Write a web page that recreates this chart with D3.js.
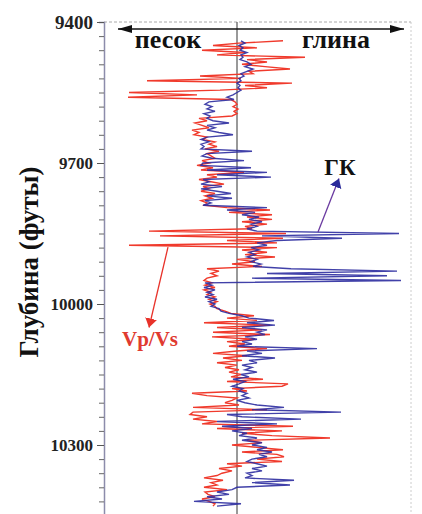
<!DOCTYPE html>
<html>
<head>
<meta charset="utf-8">
<script src="https://cdn.jsdelivr.net/npm/d3@7"></script>
<style>
  body { margin: 0; background: #fff; }
  svg { display: block; }
  .serif { font-family: 'Liberation Serif', 'DejaVu Serif', serif; font-weight: bold; }
</style>
</head>
<body>
<div id="chart"></div>
<script>
// sampling grid of the log (feet)
const depthStart = 9440;
const depthStep = 5;

// Vp/Vs curve, relative to the sand/clay line (left = sand, right = clay)
const vpvs = [
  46, 2, -24, 20, -35, 8, -20, 68, 10, 30,
  5, 28, 53, 12, 16, -37, 4, -90, 55, 8,
  30, -17, -108, -40, -109, -6, -2, 0, -4, 1,
  -3, 0, -5, -38, -30, -42, -35, -28, -45, -38,
  -43, -30, -34, -22, -28, -20, -32, -18, -30, -26,
  -22, -35, -28, -40, -24, -36, 7, -30, -20, -38,
  -26, -13, -34, -28, -36, -22, -32, -25, -36, -30,
  -33, -10, 33, -8, 35, 10, 35, 5, 30, 8,
  15, -88, 49, -77, 46, -10, 40, -108, 40, 5,
  30, 8, 38, 0, 18, -5, 25, -30, -18, -26,
  -20, -30, -33, -25, -32, -22, -33, -26, -30, -22,
  -28, -20, -27, -22, -20, -12, -6, 17, -10, 20,
  -33, 33, -20, 25, -24, 33, -25, 18, -10, 8,
  -8, 30, 0, -24, 10, -14, 5, -20, 0, -12,
  2, -8, 4, -6, 26, -10, 51, 45, -5, 10,
  -45, -30, 0, -5, -12, 2, -44, 30, -44, -47,
  -30, -44, -20, -35, 56, -20, 45, 5, 35, 93,
  10, 25, -5, 20, 46, 5, 40, 47, 20, 45,
  -10, 5, -18, -5, -15, -20, -33, -14, -26, -20,
  -33, -10, -32, -29, -22, -35, -28, -22, -24
];

// GK (gamma ray) curve, same depths
const gk = [
  4, 8, 2, 6, 3, 10, 4, 6, 3, 10,
  14, 8, 16, 10, 4, 7, 2, 4, 0, 3,
  1, 4, 0, -4, -10, -3, -28, -32, -25, -30,
  -22, -33, -27, -30, -24, -8, -30, -22, -30, -18,
  -4, -30, -36, -28, -36, -33, -36, 15, -30, -35,
  -25, 7, -34, -36, 14, -30, 30, -20, 34, -34,
  -28, -36, -15, -36, -20, -6, -30, -5, -32, -26,
  -34, 30, -10, 18, 5, 22, 12, 25, 14, 20,
  10, 20, 162, 25, 105, 40, 20, 30, 14, 22,
  12, 18, 10, 20, 14, 24, 16, 54, 160, 30,
  150, 15, 164, -32, -25, -33, -22, -30, -24, -32,
  -20, -28, -22, -26, -18, -16, -8, 5, 12, 37,
  10, 38, 5, 30, 20, 28, 8, 20, 5, 15,
  0, 80, 10, 25, 5, 38, 12, 20, 5, 15,
  8, 20, 4, 12, -4, 8, 2, -5, 6, 2,
  10, 5, 12, 0, 8, 20, 47, 15, 104, -10,
  5, 64, -20, 40, -15, 15, -5, 10, 2, 20,
  5, 25, 15, 30, 20, 35, 22, 30, 15, 10,
  20, 30, 15, 25, 10, 15, 8, 57, 15, 53,
  0, -5, -20, -8, -30, -15, -43, 4, -20
];

const majorTicks = [9400, 9700, 10000, 10300];
const minorStep = 30;
const depthDomain = [9400, 10450];
const valueDomain = [-133, 174];
const sideLabels = ['песок', 'глина'];
const yTitle = 'Глубина (футы)';

// annotations: [depth, value] of arrow start and end
const gkNote = { text: 'ГК', from: [9847, 81], to: [9733, 102], label: [9725, 103] };
const vpNote = { text: 'Vp/Vs', from: [9879, -69], to: [10050, -88], label: [10090, -87] };

const width = 422, height = 514;
const margin = { top: 22, left: 104, right: 11 };

const svg = d3.select('#chart')
  .append('svg')
  .attr('width', width)
  .attr('height', height);

const y = d3.scaleLinear()
  .domain(depthDomain)
  .range([margin.top, margin.top + 0.47 * (depthDomain[1] - depthDomain[0])]);

const x = d3.scaleLinear()
  .domain(valueDomain)
  .range([margin.left, width - margin.right]);

const defs = svg.append('defs');
function marker(id, color, w, h) {
  defs.append('marker')
    .attr('id', id)
    .attr('viewBox', `0 0 ${w} ${h}`)
    .attr('refX', w)
    .attr('refY', h / 2)
    .attr('markerWidth', w)
    .attr('markerHeight', h)
    .attr('markerUnits', 'userSpaceOnUse')
    .attr('orient', 'auto-start-reverse')
    .append('path')
    .attr('d', `M0,0L${w},${h / 2}L0,${h}Z`)
    .attr('fill', color);
}
marker('head-black', '#111', 14, 8);
marker('head-blue', '#2a2a9a', 9, 12);
marker('head-red', '#e8322a', 9, 12);

// frame
svg.append('line')
  .attr('x1', x(valueDomain[0])).attr('x2', x(valueDomain[1]))
  .attr('y1', y(depthDomain[0])).attr('y2', y(depthDomain[0]))
  .attr('stroke', '#aaa').attr('stroke-dasharray', '3,2');
svg.append('line')
  .attr('x1', x(valueDomain[1])).attr('x2', x(valueDomain[1]))
  .attr('y1', y(depthDomain[0])).attr('y2', height)
  .attr('stroke', '#ccc').attr('stroke-dasharray', '2,2');

// depth axis
const minorTicks = d3.range(depthDomain[0], depthDomain[1] + 1, minorStep);
const axis = svg.append('g')
  .attr('transform', `translate(${margin.left},0)`)
  .call(d3.axisLeft(y).tickValues(minorTicks).tickSize(5).tickFormat(''));
axis.select('.domain').attr('stroke', '#8c8cab').attr('stroke-width', 1.5);
axis.selectAll('.tick line').attr('stroke', '#666');

const majors = svg.append('g')
  .attr('transform', `translate(${margin.left},0)`)
  .call(d3.axisLeft(y).tickValues(majorTicks).tickSize(7).tickPadding(4).tickFormat(d3.format('d')));
majors.attr('font-family', null).attr('font-size', null);
majors.select('.domain').remove();
majors.selectAll('.tick line').attr('stroke', '#555');
majors.selectAll('.tick text')
  .attr('class', 'serif')
  .style('font-size', d => d === 9400 ? '19px' : '17px')
  .attr('fill', '#222');

// sand / clay line
const x0 = x(0);
svg.append('line')
  .attr('x1', x0).attr('x2', x0)
  .attr('y1', y(depthDomain[0])).attr('y2', height)
  .attr('stroke', '#555').attr('stroke-width', 1.2);

// double arrow
svg.append('line')
  .attr('x1', x(-119)).attr('x2', x(167))
  .attr('y1', 29).attr('y2', 29)
  .attr('stroke', '#111').attr('stroke-width', 1.5)
  .attr('marker-start', 'url(#head-black)')
  .attr('marker-end', 'url(#head-black)');

svg.selectAll('.side')
  .data(sideLabels)
  .enter()
  .append('text')
  .attr('class', 'side serif')
  .attr('x', (d, i) => i === 0 ? x(-69) : x(99))
  .attr('y', 48)
  .attr('text-anchor', 'middle')
  .style('font-size', '26px')
  .attr('fill', '#111')
  .text(d => d);

// y title
svg.append('text')
  .attr('class', 'serif')
  .attr('transform', 'translate(38,262) rotate(-90)')
  .attr('text-anchor', 'middle')
  .style('font-size', '27px')
  .attr('fill', '#111')
  .text(yTitle);

// curves
const line = d3.line()
  .x(d => x(d))
  .y((d, i) => y(depthStart + i * depthStep));

svg.append('path')
  .datum(vpvs)
  .attr('d', line)
  .attr('fill', 'none')
  .attr('stroke', '#f03a2c')
  .attr('stroke-width', 1.4);

svg.append('path')
  .datum(gk)
  .attr('d', line)
  .attr('fill', 'none')
  .attr('stroke', '#2c2ca0')
  .attr('stroke-width', 1.4)
  .attr('stroke-opacity', 0.9);

// annotations
function note(n, color, head, size, textColor) {
  svg.append('line')
    .attr('x1', x(n.from[1])).attr('y1', y(n.from[0]))
    .attr('x2', x(n.to[1])).attr('y2', y(n.to[0]))
    .attr('stroke', color).attr('stroke-width', 1.3)
    .attr('marker-end', `url(#${head})`);
  svg.append('text')
    .attr('class', 'serif')
    .attr('x', x(n.label[1]))
    .attr('y', y(n.label[0]))
    .attr('text-anchor', 'middle')
    .style('font-size', size + 'px')
    .attr('fill', textColor)
    .text(n.text);
}
note(gkNote, '#6a3aa0', 'head-blue', 23, '#111');
note(vpNote, '#e8322a', 'head-red', 21, '#e03a30');
</script>
</body>
</html>
